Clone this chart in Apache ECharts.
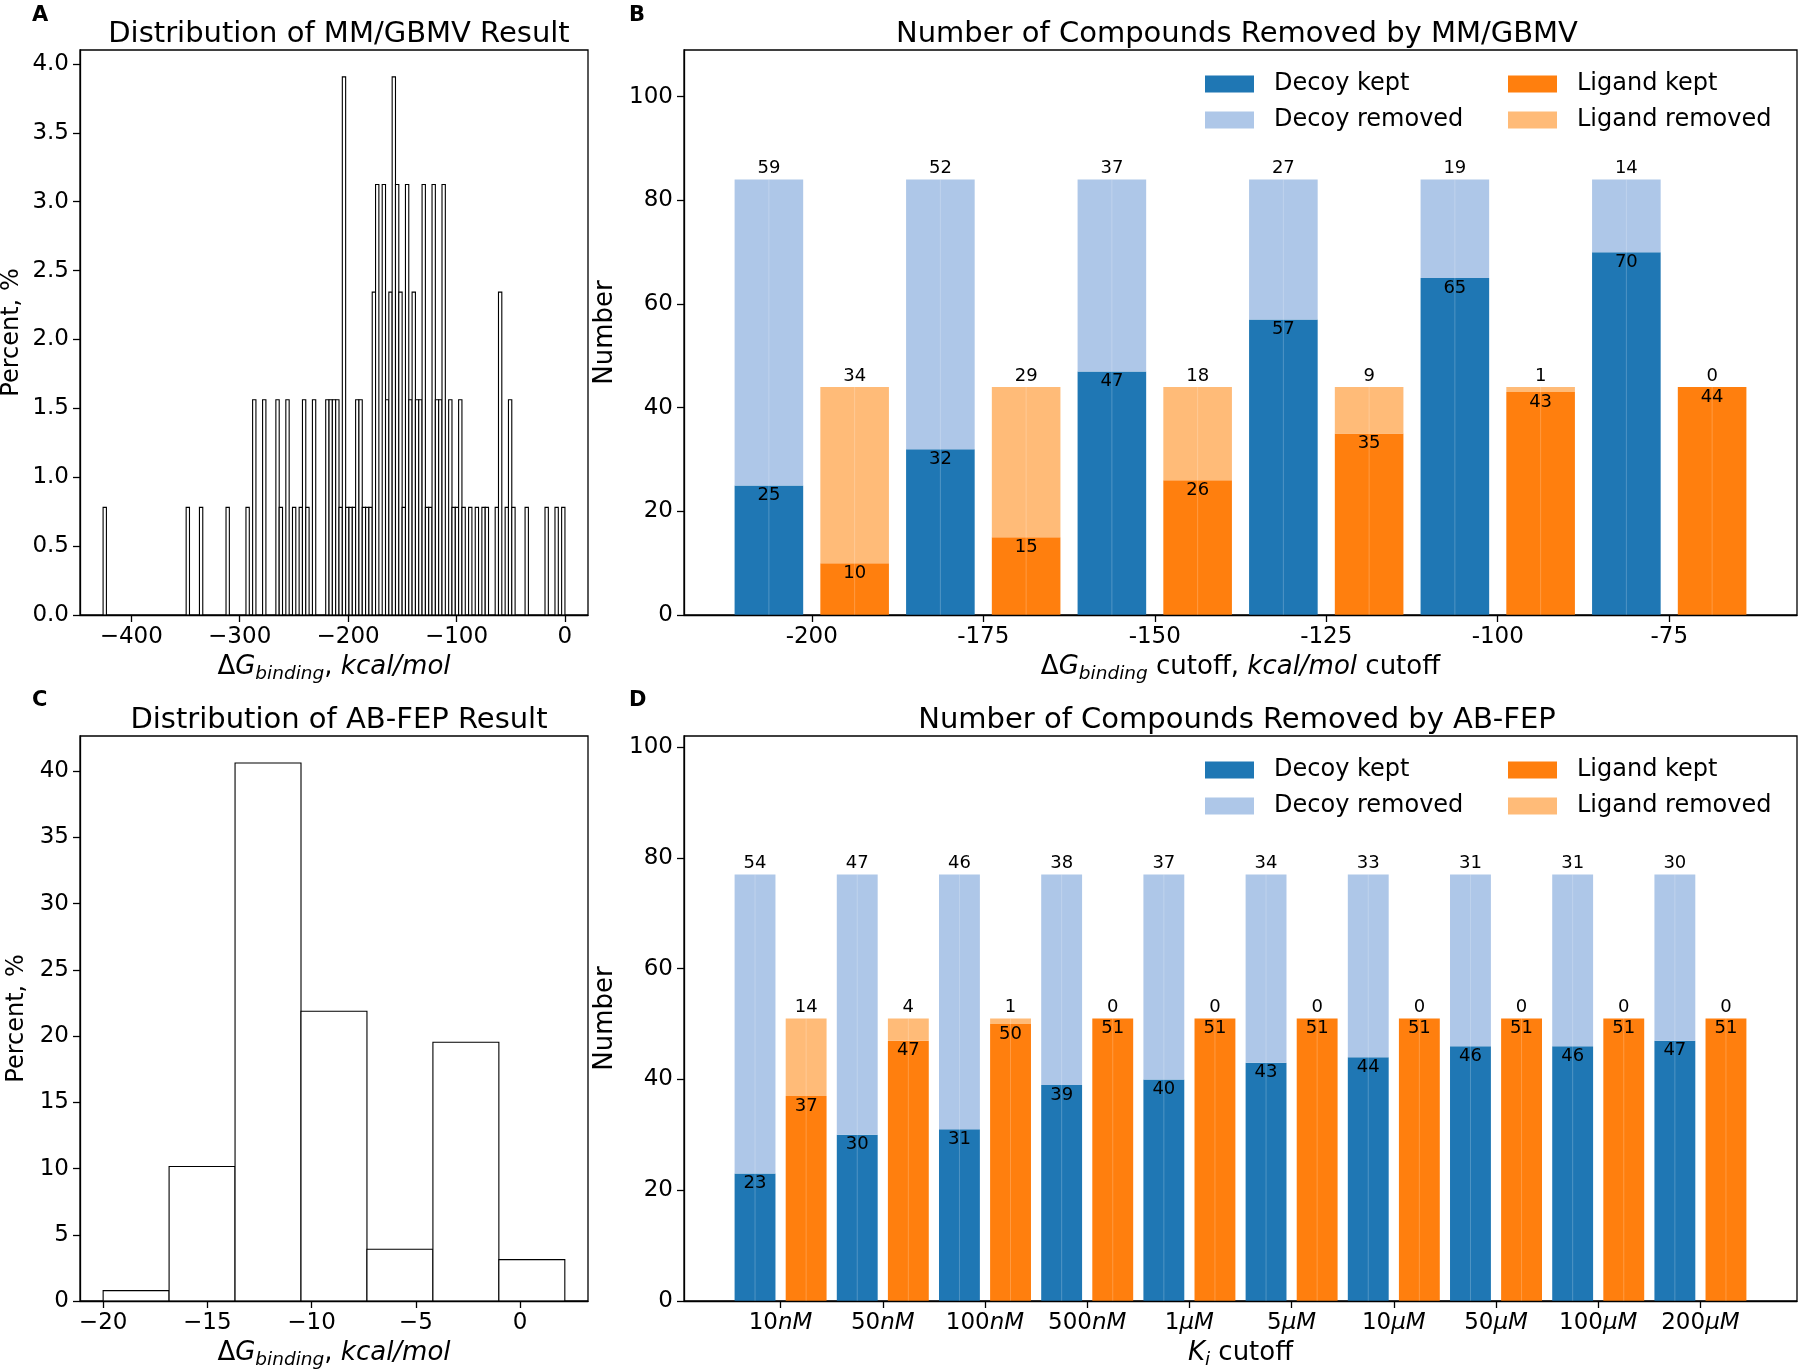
<!DOCTYPE html>
<html>
<head>
<meta charset="utf-8">
<script src="https://cdn.jsdelivr.net/npm/echarts@6/dist/echarts.min.js"></script>
<style>
html,body{margin:0;padding:0;background:#ffffff;}
#chart{width:1800px;height:1369px;}
</style>
</head>
<body>
<div id="chart"></div>
<script>
// ---------- Panel A: MM/GBMV histogram (bin left edges, counts out of 128 compounds) ----------
const mmBinWidth = 3.065;
const mmBinStart = [-426.00,-349.38,-337.12,-312.60,-294.21,-288.08,-278.88,-266.62,-263.56,-257.43,
  -251.30,-245.17,-242.10,-239.04,-232.91,-220.65,-217.58,-214.52,-211.45,-208.39,
  -205.32,-202.26,-199.19,-196.13,-193.06,-190.00,-186.93,-183.87,-180.80,-177.74,
  -174.67,-168.54,-165.48,-162.41,-159.35,-156.28,-153.22,-150.15,-147.09,-144.02,
  -140.96,-137.89,-134.83,-131.76,-128.70,-125.63,-122.57,-119.50,-116.44,-113.37,
  -107.24,-104.18,-101.11,-98.05,-94.98,-88.85,-82.72,-76.59,-73.53,-64.33,
  -61.27,-55.14,-52.07,-49.01,-36.75,-18.36,-9.16,-3.03];
const mmCounts = [1,1,1,1,1,2,2,2,1,2,
  1,1,2,1,2,2,2,2,2,1,
  5,1,1,1,2,2,1,1,1,3,
  4,4,2,3,5,4,3,1,4,2,
  3,2,2,4,1,1,4,2,2,4,
  2,1,1,2,1,1,1,1,1,1,
  3,1,2,1,1,1,1,1];
const mmTotal = 128;
const mmXTicks = [-400,-300,-200,-100,0];
const mmYTicks = [0,0.5,1,1.5,2,2.5,3,3.5,4];

// ---------- Panel C: AB-FEP histogram ----------
const abBinWidth = 3.164;
const abBinStart = [-20.0,-16.836,-13.672,-10.508,-7.344,-4.18,-1.016];
const abCounts = [1,13,52,28,5,25,4];
const abTotal = 128;
const abXTicks = [-20,-15,-10,-5,0];
const abYTicks = [0,5,10,15,20,25,30,35,40];

// ---------- Panel B: compounds removed by MM/GBMV ----------
const mmCutoffs = ['-200','-175','-150','-125','-100','-75'];
const mmDecoyKept = [25,32,47,57,65,70];
const mmDecoyRemoved = [59,52,37,27,19,14];
const mmLigandKept = [10,15,26,35,43,44];
const mmLigandRemoved = [34,29,18,9,1,0];

// ---------- Panel D: compounds removed by AB-FEP ----------
const feCutoffNumber = ['10','50','100','500','1','5','10','50','100','200'];
const feCutoffUnit = ['nM','nM','nM','nM','\u03bcM','\u03bcM','\u03bcM','\u03bcM','\u03bcM','\u03bcM'];
const feDecoyKept = [23,30,31,39,40,43,44,46,46,47];
const feDecoyRemoved = [54,47,46,38,37,34,33,31,31,30];
const feLigandKept = [37,47,50,51,51,51,51,51,51,51];
const feLigandRemoved = [14,4,1,0,0,0,0,0,0,0];
const countYTicks = [0,20,40,60,80,100];

// ---------- styling ----------
const FONT = 'DejaVu Sans';
const C_DK = '#1f77b4', C_DR = '#aec7e8', C_LK = '#ff7f0e', C_LR = '#ffbb78';
const TICK_FS = 23, NAME_FS = 26, LABEL_FS = 18, TITLE_FS = 29;

function minusFmt(v) { return v < 0 ? '\u2212' + Math.abs(v) : String(v); }
function range(n) { const a = []; for (let i = 0; i < n; i++) a.push(i); return a; }

const mathRich = {
  d: {fontFamily: FONT, fontSize: NAME_FS, color: '#000', lineHeight: 30},
  g: {fontFamily: FONT, fontSize: NAME_FS, color: '#000', fontStyle: 'italic', lineHeight: 30},
  s: {fontFamily: FONT, fontSize: 18.5, color: '#000', fontStyle: 'italic', lineHeight: 22, padding: [15, 0, 0, 0]},
  n: {fontFamily: FONT, fontSize: NAME_FS, color: '#000', lineHeight: 30},
  i: {fontFamily: FONT, fontSize: NAME_FS, color: '#000', fontStyle: 'italic', lineHeight: 30}
};

function baseAxis(extra) {
  return Object.assign({
    z: 5,
    axisLine: {show: true, onZero: false, lineStyle: {color: '#000', width: 1.3}},
    splitLine: {show: false},
    nameLocation: 'middle',
    nameTextStyle: {color: '#000', fontFamily: FONT, fontSize: NAME_FS, rich: mathRich}
  }, extra);
}
function ticks(vals) {
  return {show: true, length: 7, inside: false, lineStyle: {color: '#000', width: 1.3}, customValues: vals};
}
function labels(vals, fmt, rich) {
  const o = {color: '#000', fontFamily: FONT, fontSize: TICK_FS, margin: 11, customValues: vals};
  if (fmt) o.formatter = fmt;
  if (rich) o.rich = rich;
  return o;
}

function histRender(params, api) {
  const a = api.coord([api.value(0), api.value(2)]);
  const b = api.coord([api.value(1), 0]);
  return {type: 'rect', shape: {x: a[0], y: a[1], width: b[0] - a[0], height: b[1] - a[1]},
    style: {fill: '#ffffff', stroke: '#000000', lineWidth: 1.1}};
}

function stackRender(x0off, x1off, mode) {
  return function (params, api) {
    const i = api.value(0), lo = api.value(1), hi = api.value(2), lab = api.value(3);
    const a = api.coord([i + x0off, hi]);
    const b = api.coord([i + x1off, lo]);
    const cx = (a[0] + b[0]) / 2;
    const kids = [
      {type: 'rect', shape: {x: a[0], y: a[1], width: b[0] - a[0], height: b[1] - a[1]},
        style: {fill: api.visual('color')}},
      {type: 'line', shape: {x1: cx, y1: a[1], x2: cx, y2: b[1]},
        style: {stroke: 'rgba(255,255,255,0.22)', lineWidth: 1}},
      {type: 'text', x: cx, y: mode === 'above' ? a[1] - 2 : a[1] + 1,
        style: {text: String(lab), fill: '#000', fontSize: LABEL_FS, fontFamily: FONT,
          align: 'center', verticalAlign: mode === 'above' ? 'bottom' : 'top'}}
    ];
    return {type: 'group', children: kids};
  };
}

function stackSeries(name, color, axisIdx, kept, removed, isRemoved, x0off, x1off) {
  const data = kept.map(function (k, i) {
    return isRemoved ? [i, k, k + removed[i], removed[i]] : [i, 0, k, k];
  });
  return {
    type: 'custom', name: name, xAxisIndex: axisIdx, yAxisIndex: axisIdx,
    itemStyle: {color: color},
    renderItem: stackRender(x0off, x1off, isRemoved ? 'above' : 'inside'),
    encode: {x: 0, y: [1, 2]},
    data: data, silent: true
  };
}

const gridBase = {show: true, borderColor: '#000', borderWidth: 1.3, backgroundColor: 'transparent',
  containLabel: false, outerBoundsMode: 'none'};
const titleStyle = {fontFamily: FONT, fontSize: TITLE_FS, fontWeight: 'normal', color: '#000'};
const letterFont = 'bold 21px "DejaVu Sans"';

const option = {
  backgroundColor: '#ffffff',
  animation: false,
  textStyle: {fontFamily: FONT},
  grid: [
    Object.assign({left: 80, top: 50, width: 508, height: 565}, gridBase),
    Object.assign({left: 684, top: 50, width: 1113, height: 565}, gridBase),
    Object.assign({left: 80, top: 736, width: 508, height: 565}, gridBase),
    Object.assign({left: 684, top: 736, width: 1113, height: 565}, gridBase)
  ],
  title: [
    {text: 'Distribution of MM/GBMV Result', left: 334, top: 15, textAlign: 'center', textStyle: titleStyle},
    {text: 'Number of Compounds Removed by MM/GBMV', left: 1232, top: 15, textAlign: 'center', textStyle: titleStyle},
    {text: 'Distribution of AB-FEP Result', left: 334, top: 701, textAlign: 'center', textStyle: titleStyle},
    {text: 'Number of Compounds Removed by AB-FEP', left: 1232, top: 701, textAlign: 'center', textStyle: titleStyle}
  ],
  graphic: [
    {type: 'text', left: 32, top: 5, style: {text: 'A', font: letterFont, fill: '#000'}},
    {type: 'text', left: 629, top: 5, style: {text: 'B', font: letterFont, fill: '#000'}},
    {type: 'text', left: 32, top: 690, style: {text: 'C', font: letterFont, fill: '#000'}},
    {type: 'text', left: 629, top: 690, style: {text: 'D', font: letterFont, fill: '#000'}}
  ],
  legend: [
    {data: ['Decoy kept', 'Decoy removed'], left: 1205, top: 72},
    {data: ['Ligand kept', 'Ligand removed'], left: 1508, top: 72},
    {data: ['Decoy kept', 'Decoy removed'], left: 1205, top: 758},
    {data: ['Ligand kept', 'Ligand removed'], left: 1508, top: 758}
  ].map(function (l) {
    return Object.assign({orient: 'vertical', icon: 'rect', itemWidth: 49, itemHeight: 17, itemGap: 12,
      selectedMode: false, padding: 0,
      textStyle: {fontFamily: FONT, fontSize: 24, color: '#000', lineHeight: 24, padding: [0, 0, 0, 15]}}, l);
  }),
  xAxis: [
    baseAxis({gridIndex: 0, type: 'value', min: -447.3, max: 21.3,
      axisTick: ticks(mmXTicks), axisLabel: labels(mmXTicks, minusFmt),
      name: '{d|\u0394}{g|G}{s|binding}{n|, }{i|kcal/mol}', nameGap: 33}),
    baseAxis({gridIndex: 1, type: 'value', min: -0.745, max: 5.745,
      axisTick: ticks(range(mmCutoffs.length)),
      axisLabel: labels(range(mmCutoffs.length), function (v) { return mmCutoffs[Math.round(v)]; }),
      name: '{d|\u0394}{g|G}{s|binding}{n| cutoff, }{i|kcal/mol}{n| cutoff}', nameGap: 33}),
    baseAxis({gridIndex: 2, type: 'value', min: -21.11, max: 3.26,
      axisTick: ticks(abXTicks), axisLabel: labels(abXTicks, minusFmt),
      name: '{d|\u0394}{g|G}{s|binding}{n|, }{i|kcal/mol}', nameGap: 33}),
    baseAxis({gridIndex: 3, type: 'value', min: -0.945, max: 9.945,
      axisTick: ticks(range(feCutoffNumber.length)),
      axisLabel: labels(range(feCutoffNumber.length),
        function (v) { const k = Math.round(v); return '{n|' + feCutoffNumber[k] + '}{i|' + feCutoffUnit[k] + '}'; },
        {n: {fontFamily: FONT, fontSize: TICK_FS, color: '#000'},
         i: {fontFamily: FONT, fontSize: TICK_FS, color: '#000', fontStyle: 'italic'}}),
      name: '{i|K}{s|i}{n| cutoff}', nameGap: 33})
  ],
  yAxis: [
    baseAxis({gridIndex: 0, type: 'value', min: 0, max: 4.1016,
      axisTick: ticks(mmYTicks), axisLabel: labels(mmYTicks, function (v) { return v.toFixed(1); }),
      name: 'Percent, %', nameGap: 56, nameTextStyle: {color: '#000', fontFamily: FONT, fontSize: 24}}),
    baseAxis({gridIndex: 1, type: 'value', min: 0, max: 109,
      axisTick: ticks(countYTicks), axisLabel: labels(countYTicks),
      name: 'Number', nameGap: 55}),
    baseAxis({gridIndex: 2, type: 'value', min: 0, max: 42.66,
      axisTick: ticks(abYTicks), axisLabel: labels(abYTicks),
      name: 'Percent, %', nameGap: 51, nameTextStyle: {color: '#000', fontFamily: FONT, fontSize: 24}}),
    baseAxis({gridIndex: 3, type: 'value', min: 0, max: 102,
      axisTick: ticks(countYTicks), axisLabel: labels(countYTicks),
      name: 'Number', nameGap: 55})
  ],
  series: [
    {type: 'custom', name: 'MM/GBMV', xAxisIndex: 0, yAxisIndex: 0, renderItem: histRender, silent: true,
      encode: {x: [0, 1], y: 2},
      data: mmBinStart.map(function (s, i) { return [s, s + mmBinWidth, mmCounts[i] / mmTotal * 100]; })},
    {type: 'custom', name: 'AB-FEP', xAxisIndex: 2, yAxisIndex: 2, renderItem: histRender, silent: true,
      encode: {x: [0, 1], y: 2},
      data: abBinStart.map(function (s, i) { return [s, s + abBinWidth, abCounts[i] / abTotal * 100]; })},
    stackSeries('Decoy kept', C_DK, 1, mmDecoyKept, mmDecoyRemoved, false, -0.45, -0.05),
    stackSeries('Decoy removed', C_DR, 1, mmDecoyKept, mmDecoyRemoved, true, -0.45, -0.05),
    stackSeries('Ligand kept', C_LK, 1, mmLigandKept, mmLigandRemoved, false, 0.05, 0.45),
    stackSeries('Ligand removed', C_LR, 1, mmLigandKept, mmLigandRemoved, true, 0.05, 0.45),
    stackSeries('Decoy kept', C_DK, 3, feDecoyKept, feDecoyRemoved, false, -0.45, -0.05),
    stackSeries('Decoy removed', C_DR, 3, feDecoyKept, feDecoyRemoved, true, -0.45, -0.05),
    stackSeries('Ligand kept', C_LK, 3, feLigandKept, feLigandRemoved, false, 0.05, 0.45),
    stackSeries('Ligand removed', C_LR, 3, feLigandKept, feLigandRemoved, true, 0.05, 0.45)
  ]
};

const chart = echarts.init(document.getElementById('chart'), null, {renderer: 'canvas'});
chart.setOption(option);
</script>
</body>
</html>
